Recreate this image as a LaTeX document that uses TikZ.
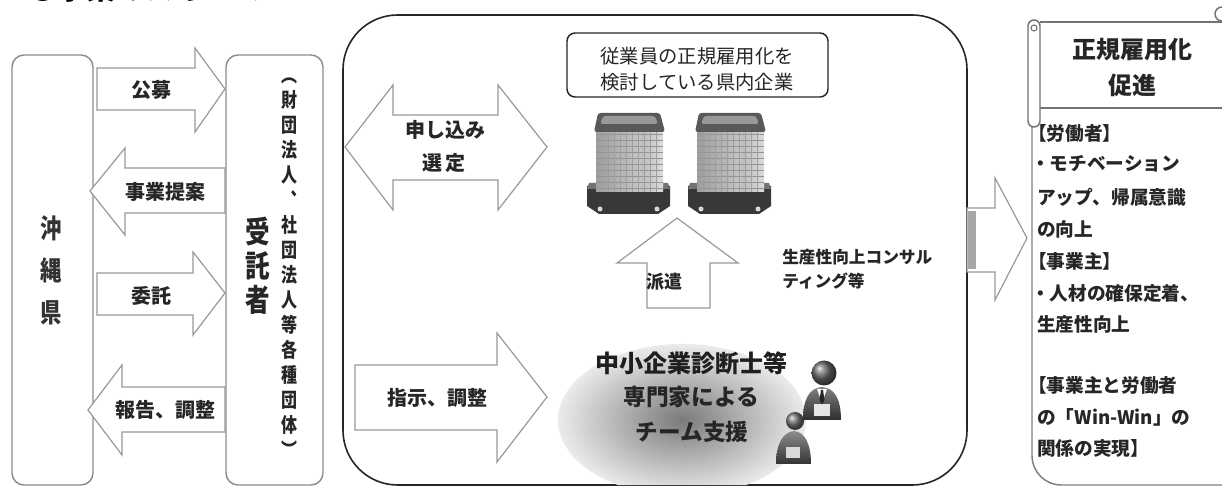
\documentclass[tikz,border=0pt]{standalone}
\usepackage{fontspec}
\setmainfont{Noto Sans CJK JP}
\newfontfamily\jpnarrow[FakeStretch=0.8]{Noto Sans CJK JP}
\usetikzlibrary{shapes.geometric}

\newcommand\fs[2]{\fontsize{#1}{#2}\selectfont}
\newcommand\pxu{0.75pt}

\begin{document}
\begin{tikzpicture}[x=0.75pt,y=-0.75pt,
  panel/.style={draw=black!45, line width=1.1pt, rounded corners=9pt},
  blockarrow/.style={draw=black!40, line width=0.9pt, fill=white, line join=miter},
  lbl/.style={inner sep=0pt, text=black!85, font=\bfseries\fs{15}{18}},
  benefit/.style={inner sep=0pt, text=black!85, anchor=west, font=\bfseries\fs{14}{17}},
]
\useasboundingbox[fill=white] (0,0) rectangle (1222,488);

% heading, cut by the page edge
\node[anchor=base west, inner sep=0pt, font=\bfseries\fs{22}{22}] (title) at (28,-0.5) {○事業のスキーム};

% ---------- prefecture and contractor ----------
\node[panel, minimum width=81*\pxu, minimum height=430*\pxu] (pref) at (52.5,270) {};
\node[font=\bfseries\jpnarrow\fs{20}{31.5}, text=black!80, align=center, inner sep=0pt] (preftext) at (51,270) {沖\\縄\\県};

\node[panel, minimum width=97*\pxu, minimum height=430*\pxu] (contractor) at (274.5,270) {};
\node[font=\bfseries\jpnarrow\fs{23}{25.5}, text=black!85, align=center, inner sep=0pt] (contractortext) at (258,266) {受\\託\\者};
\node[font=\bfseries\jpnarrow\fs{15}{18.75}, text=black!85, align=center, inner sep=0pt] (members) at (289,268)
  {︵\\財\\団\\法\\人\\︑\\社\\団\\法\\人\\等\\各\\種\\団\\体\\︶};

% ---------- block arrows between them ----------
\draw[blockarrow] (97,68) -- (195,68) -- (195,48) -- (225,89) -- (195,132) -- (195,110) -- (97,110) -- cycle;
\node[lbl] (koubo) at (151,90) {公募};
\draw[blockarrow] (225,168) -- (125,168) -- (125,148) -- (90,191) -- (125,235) -- (125,213) -- (225,213) -- cycle;
\node[lbl] (teian) at (165,192) {事業提案};
\draw[blockarrow] (97,273) -- (193,273) -- (193,252) -- (225,293) -- (193,335) -- (193,315) -- (97,315) -- cycle;
\node[lbl] (itaku) at (151,296) {委託};
\draw[blockarrow] (225,387) -- (122,387) -- (122,365) -- (88,410) -- (122,455) -- (122,432) -- (225,432) -- cycle;
\node[lbl] (houkoku) at (165,410) {報告、調整};

% ---------- central frame ----------
\node[draw=black!85, line width=1.2pt, rounded corners=41pt, minimum width=624*\pxu, minimum height=470*\pxu] (hub) at (655,250) {};

% team ellipse, kept inside the frame
\begin{scope}
  \clip[rounded corners=41pt] (343,15) rectangle (967,485);
  \shade[inner color=black!52, outer color=black!8] (682,420) ellipse [x radius=124, y radius=76];
\end{scope}

% firm caption
\node[draw=black!85, line width=1.1pt, rounded corners=6pt, minimum width=261*\pxu, minimum height=64*\pxu] (firms) at (697.5,65) {};
\node[font=\fs{14.5}{19.5}, text=black!85, align=center, inner sep=0pt] (firmstext) at (697,69) {従業員の正規雇用化を\\検討している県内企業};

% double arrow: application / selection
\draw[blockarrow] (345,147) -- (393,85) -- (393,115) -- (498,115) -- (498,85) -- (547,147) -- (498,210) -- (498,180) -- (393,180) -- (393,210) -- cycle;
\node[lbl] (moushikomi) at (445,130) {申し込み};
\node[lbl] (sentei) at (444,163) {選\,定};

% two office buildings
\foreach \dx in {0,101} {
  \begin{scope}[shift={(\dx,0)}]
    \fill[black!78] (587,186) -- (670,186) -- (670,206) -- (658,214) -- (599,214) -- (587,206) -- cycle;
    \fill[black!55] (589,183) -- (668,183) -- (670,189) -- (587,189) -- cycle;
    \fill[black!15] (600,209) circle (2.5);
    \fill[black!15] (657,209) circle (2.5);
    \shade[left color=black!38, right color=black!22] (596,128) rectangle (641,192);
    \shade[left color=black!26, right color=black!14] (641,128) rectangle (663,192);
    \foreach \yy in {134,140,...,188} \draw[black!42, line width=0.3pt] (596,\yy) -- (663,\yy);
    \foreach \xx in {602,608,...,660} \draw[black!38, line width=0.3pt] (\xx,128) -- (\xx,192);
    \fill[black!65, rounded corners=2pt] (598,113) -- (660,113) -- (665,132) -- (594,132) -- cycle;
    \fill[black!40, rounded corners=2pt] (603,116) -- (655,116) -- (658,124) -- (600,124) -- cycle;
  \end{scope}
}

% dispatch arrow
\draw[blockarrow] (677,218) -- (738,263) -- (710,263) -- (710,308) -- (647,308) -- (647,263) -- (617,263) -- cycle;
\node[lbl, font=\bfseries\fs{13.5}{16}] (haken) at (664,282) {派遣};

% consulting note
\node[inner sep=0pt, anchor=west, text=black!85, font=\bfseries\fs{12.5}{15}] (consult1) at (782,257) {生産性向上コンサル};
\node[inner sep=0pt, anchor=west, text=black!85, font=\bfseries\fs{12.5}{15}] (consult2) at (782,281) {ティング等};

% instruction arrow
\draw[blockarrow] (355,365) -- (497,365) -- (497,333) -- (547,397) -- (497,462) -- (497,430) -- (355,430) -- cycle;
\node[lbl] (shiji) at (437,398) {指示、調整};

% team text
\node[inner sep=0pt, text=black!88, font=\bfseries\fs{18}{20}] (team1) at (691,363) {中小企業診断士等};
\node[inner sep=0pt, text=black!85, font=\bfseries\fs{17}{20}] (team2) at (691,397) {専門家による};
\node[inner sep=0pt, text=black!85, font=\bfseries\fs{17}{20}] (team3) at (692,432) {チーム支援};

% experts: a man with a tie and a smaller colleague
\shade[top color=black!45, bottom color=black!80] (776,464) .. controls (776,444) and (783,432) .. (794,431) .. controls (805,432) and (811,444) .. (811,464) -- cycle;
\fill[white!85!black] (786,447) rectangle (800,458);
\shade[ball color=black!55] (795,421) circle (9);
\shade[top color=black!50, bottom color=black!82] (803,420) .. controls (803,398) and (810,388) .. (822,387) .. controls (834,388) and (841,398) .. (841,420) -- cycle;
\fill[white] (817,389) -- (827,389) -- (822,403) -- cycle;
\fill[black!85] (821,390) -- (823,390) -- (824.5,400) -- (822,405) -- (819.5,400) -- cycle;
\fill[white!90!black] (814,404) rectangle (830,416);
\shade[ball color=black!60] (824,373) circle (12.5);

% ---------- outcome arrow and panel ----------
\draw[blockarrow] (967,208) -- (995,208) -- (995,178) -- (1027,238) -- (995,300) -- (995,272) -- (967,272) -- cycle;
\fill[black!35] (968,211) rectangle (976,269);

\draw[black!50, line width=1.1pt, rounded corners=22pt] (1032,108) -- (1032,485) -- (1240,485);
\draw[black!55, line width=1.1pt] (1040,22) -- (1240,22);
\draw[black!55, line width=1.1pt] (1040,108) -- (1240,108);
\draw[black!55, line width=1.1pt, fill=white, rounded corners=4.5pt] (1028,20) rectangle (1040,127);
\draw[black!55, line width=0.8pt] (1034,28) circle (3);
\draw[black!55, line width=1.1pt] (1222,14) circle (7);

\node[inner sep=0pt, text=black!85, align=center, font=\bfseries\fs{18}{27}] (promo) at (1132,68) {正規雇用化\\促進};

\foreach \t/\y/\xo [count=\i] in {
  【労働者】/133/1028,
  ・モチベーション/164/1031,
  アップ、帰属意識/197/1037,
  の向上/229/1037,
  【事業主】/261/1028,
  ・人材の確保定着、/293/1031,
  生産性向上/324/1037,
  【事業主と労働者/385/1028,
  の「Win-Win」の/417/1037,
  関係の実現】/448/1037}
  \node[benefit] (benefit\i) at (\xo,\y) {\t};

\end{tikzpicture}
\end{document}
